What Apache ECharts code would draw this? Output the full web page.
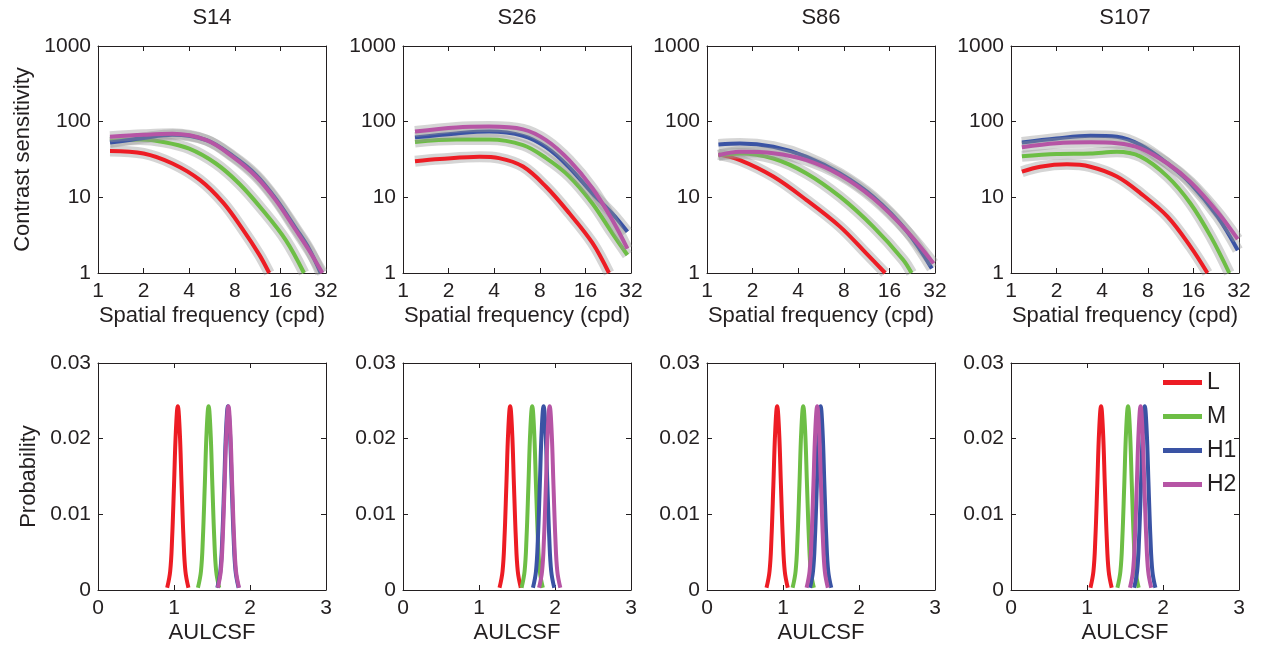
<!DOCTYPE html>
<html><head><meta charset="utf-8">
<script src="https://cdn.jsdelivr.net/npm/echarts@6/dist/echarts.min.js"></script>
<style>html,body{margin:0;padding:0;background:#fff}#c{width:1261px;height:648px}</style>
</head><body><div id="c"></div>
<script>
// ---------------- DATA ----------------
const subjects = ['S14', 'S26', 'S86', 'S107'];
const groups = ['L', 'M', 'H1', 'H2'];
const csfXTicks = [1, 2, 4, 8, 16, 32];
const csfYTicks = [1, 10, 100, 1000];
const aulXTicks = [0, 1, 2, 3];
const aulYTicks = [0, 0.01, 0.02, 0.03];

// CSF curves: [spatial frequency (cpd), contrast sensitivity]
const S14_L  = [[1.2,41],[2,38],[3.1,28],[4.7,17],[6.7,8.5],[9,3.8],[11.6,1.75],[13.5,1]];
const S14_M  = [[1.2,55],[1.9,58],[2.7,54],[4,44],[6,28],[8.6,15],[12.2,6.8],[17.4,2.7],[22.9,1]];
const S14_H1 = [[1.2,53],[2,61],[3.1,67],[5.2,57],[7.8,35],[11,20],[14.9,9.6],[20.2,3.9],[24.7,2.1],[29.5,1]];
const S14_H2 = [[1.2,63],[2,67],[3.1,69],[5.2,57],[7.8,34],[11,19],[14.9,9.2],[20.2,3.7],[24.7,2.0],[30.3,1]];

const S26_L  = [[1.2,30],[1.75,32],[3.2,34.4],[4.3,33],[6.2,25.5],[8.8,13.8],[12.5,6.2],[17.8,2.5],[22.9,1]];
const S26_M  = [[1.2,54],[2.25,58],[3.7,58],[6.2,49],[8.8,33],[12.5,19],[17.8,8.3],[24.1,3.35],[30.3,1.73]];
const S26_H1 = [[1.2,62],[2.25,70],[3.7,74],[6.2,65],[8.8,46],[12.5,25],[17.8,11.3],[24.1,6.1],[30.3,3.5]];
const S26_H2 = [[1.2,74],[2.25,84],[3.7,86],[6.2,79],[8.8,57],[12.5,31],[17.8,13.2],[24.1,5.0],[30.3,2.1]];

const S86_L  = [[1.19,37],[1.65,31],[2.74,18.8],[4.54,9.2],[7.55,4.1],[11.3,1.8],[15,1]];
const S86_M  = [[1.19,36],[1.65,38],[2.74,32.6],[4.54,20.7],[7.55,10.2],[12.5,4.1],[19.7,1.5],[22.4,1]];
const S86_H1 = [[1.19,50],[1.65,51.5],[2.74,46.6],[4.54,34.4],[7.55,20.7],[12.5,10.2],[20.8,3.6],[30.5,1.15]];
const S86_H2 = [[1.19,36],[1.65,40],[2.74,38.3],[4.54,31],[7.55,19.7],[12.5,9.7],[20.8,3.6],[31.3,1.34]];

const S107_L  = [[1.18,21.8],[1.56,25.4],[2.34,27.3],[3.34,25.4],[5,18.8],[7.17,11.3],[10.8,5.55],[15.3,2.23],[19.8,1]];
const S107_M  = [[1.18,35],[2,37.5],[3.34,38],[5,40],[7.17,34.5],[10.8,18.8],[15.3,8.3],[20.9,3.0],[27.6,1]];
const S107_H1 = [[1.18,53],[2,60],[3.34,65],[5,63],[7.17,49],[10.8,28],[15.3,15.3],[23.1,5.55],[31.4,2.0]];
const S107_H2 = [[1.18,46],[2,52],[3.34,53.4],[5,52],[7.17,44.5],[10.8,28],[15.3,16],[23.1,6.4],[31.4,2.8]];

// AULCSF posterior peaks: centre of each peak (AULCSF) per group L, M, H1, H2
const S14_AULCSF  = [1.05, 1.455, 1.71, 1.716];
const S26_AULCSF  = [1.41, 1.70, 1.85, 1.93];
const S86_AULCSF  = [0.923, 1.266, 1.495, 1.45];
const S107_AULCSF = [1.185, 1.54, 1.76, 1.705];
// common peak profile: offset from centre, probability
const PEAK_DX = [-0.14, -0.1, -0.075, -0.05, -0.025, 0, 0.025, 0.05, 0.075, 0.1, 0.14];
const PEAK_P  = [0.0003, 0.0025, 0.0068, 0.0138, 0.0211, 0.0243, 0.0211, 0.0138, 0.0068, 0.0025, 0.0003];

const csfData = [[S14_L,S14_M,S14_H1,S14_H2],[S26_L,S26_M,S26_H1,S26_H2],[S86_L,S86_M,S86_H1,S86_H2],[S107_L,S107_M,S107_H1,S107_H2]];
const aulData = [S14_AULCSF, S26_AULCSF, S86_AULCSF, S107_AULCSF];

// ---------------- STYLE / LAYOUT ----------------
const colors = ['#ED1C24', '#6DBE45', '#3A53A4', '#B655A5'];
const INK = '#231f20';
const FONT = 'Liberation Sans, Arial, Helvetica, sans-serif';
const LEFTS = [98, 403, 707, 1011], W = 228, H = 227, TOP_ROW = 46, BOT_ROW = 363;

const grid = [], xAxis = [], yAxis = [], series = [];
const line = { show: true, onZero: false, lineStyle: { color: INK, width: 1 } };
const tick = { show: true, inside: true, length: 5, lineStyle: { color: INK, width: 1 } };
const lbl = (fmt) => ({ fontSize: 21, color: INK, fontFamily: FONT, formatter: fmt });
const intFmt = v => String(Math.round(v));
const decFmt = v => String(+(+v).toFixed(2));

function addPanel(row, col) {
  const gi = grid.length;
  const csf = row === 0;
  grid.push({ left: LEFTS[col], top: csf ? TOP_ROW : BOT_ROW, width: W, height: H });
  const xBase = csf ? { type: 'log', logBase: 2, min: 1, max: 32 } : { type: 'value', min: 0, max: 3, interval: 1 };
  const yBase = csf ? { type: 'log', logBase: 10, min: 1, max: 1000 } : { type: 'value', min: 0, max: 0.03, interval: 0.01 };
  xAxis.push(Object.assign({}, xBase, {
    gridIndex: gi, position: 'bottom', axisLine: line, axisTick: tick, splitLine: { show: false },
    axisLabel: Object.assign(lbl(intFmt), { margin: 8 }),
    name: csf ? 'Spatial frequency (cpd)' : 'AULCSF', nameLocation: 'middle', nameGap: 32,
    nameTextStyle: { fontSize: 22, color: INK, fontFamily: FONT }
  }));
  xAxis.push(Object.assign({}, xBase, {
    gridIndex: gi, position: 'top', axisLine: line, axisTick: tick, splitLine: { show: false },
    axisLabel: { show: false },
    name: csf ? subjects[col] : '', nameLocation: 'middle', nameGap: 17,
    nameTextStyle: { fontSize: 22, color: INK, fontFamily: FONT }
  }));
  yAxis.push(Object.assign({}, yBase, {
    gridIndex: gi, position: 'left', axisLine: line, axisTick: tick, splitLine: { show: false },
    axisLabel: Object.assign(lbl(csf ? intFmt : decFmt), { margin: 7 }),
    name: col === 0 ? (csf ? 'Contrast sensitivity' : 'Probability') : '',
    nameLocation: 'middle', nameGap: csf ? 64 : 58,
    nameTextStyle: { fontSize: 22, color: INK, fontFamily: FONT }
  }));
  yAxis.push(Object.assign({}, yBase, {
    gridIndex: gi, position: 'right', axisLine: line, axisTick: tick, splitLine: { show: false },
    axisLabel: { show: false }
  }));
  const xi = 2 * gi, yi = 2 * gi;
  groups.forEach((g, k) => {
    if (csf) {
      series.push({ type: 'line', name: 'band', xAxisIndex: xi, yAxisIndex: yi, data: csfData[col][k],
        smooth: 0.35, showSymbol: false, symbol: 'none', silent: true, z: 2 + 2 * k,
        lineStyle: { color: 'rgba(150,150,150,0.4)', width: 11, cap: 'butt', join: 'round' } });
      series.push({ type: 'line', name: g, xAxisIndex: xi, yAxisIndex: yi, data: csfData[col][k],
        smooth: 0.35, showSymbol: false, symbol: 'none', z: 3 + 2 * k,
        itemStyle: { color: colors[k] }, lineStyle: { color: colors[k], width: 4, cap: 'butt' } });
    } else {
      const c = aulData[col][k];
      series.push({ type: 'line', name: g, xAxisIndex: xi, yAxisIndex: yi,
        data: PEAK_DX.map((d, j) => [c + d, PEAK_P[j]]),
        smooth: 0.4, showSymbol: false, symbol: 'none', z: 3 + k,
        itemStyle: { color: colors[k] }, lineStyle: { color: colors[k], width: 4, cap: 'butt' } });
    }
  });
}
for (let r = 0; r < 2; r++) for (let c = 0; c < 4; c++) addPanel(r, c);

const chart = echarts.init(document.getElementById('c'), null, { renderer: 'canvas' });
chart.setOption({
  animation: false,
  backgroundColor: '#ffffff',
  grid, xAxis, yAxis, series,
  legend: {
    data: groups, orient: 'vertical', left: 1158, top: 366, itemWidth: 39, itemHeight: 5, itemGap: 11,
    icon: 'rect', selectedMode: false, textStyle: { fontSize: 23, color: INK, fontFamily: FONT }
  }
});
</script>
</body></html>
